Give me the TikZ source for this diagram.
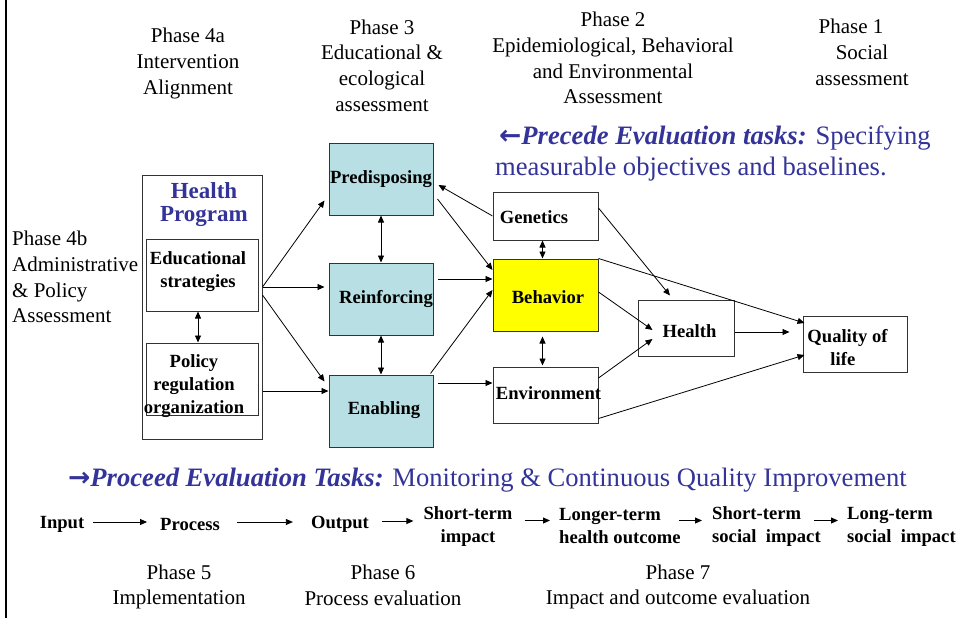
\documentclass[tikz,border=0pt]{standalone}
\usepackage{fontspec}
\setmainfont{Liberation Serif}
\newfontfamily\symfont{DejaVu Sans}
\usetikzlibrary{arrows.meta,calc}
\definecolor{navyblue}{RGB}{51,51,153}
\definecolor{boxteal}{RGB}{184,224,228}
\definecolor{boxyellow}{RGB}{255,255,0}
\newcommand{\phasefont}{\fontsize{21}{25.7}\selectfont}
\newcommand{\boxfont}{\fontsize{18.6}{23}\selectfont\bfseries}
\newcommand{\hpfont}{\fontsize{23}{23}\selectfont\bfseries}
\newcommand{\bigtxt}{\fontsize{26.6}{31}\selectfont}
% box text: #1 x-shift (right), #2 raise (up), #3 column spec, #4 rows
\newcommand{\btxt}[4]{\makebox[0pt]{\hspace*{#1}\hspace*{#1}\raisebox{#2}[\height][\depth]{\begin{tabular}{@{}#3@{}}#4\end{tabular}}}}
\tikzset{
  nbox/.style={draw=black!80, line width=1pt, inner sep=0pt, font=\boxfont, align=center},
  tealbox/.style={nbox, fill=boxteal},
  phase/.style={font=\phasefont, align=center, inner sep=0pt},
  steptxt/.style={font=\boxfont, inner sep=0pt},
  arr/.style={line width=0.8pt, -{Triangle[length=7pt,width=6pt]}},
  darr/.style={line width=0.8pt, {Triangle[length=7pt,width=6pt]}-{Triangle[length=7pt,width=6pt]}}
}
\begin{document}
\begin{tikzpicture}[x=1pt,y=-1pt]
\useasboundingbox (0,0) rectangle (959,618);
\draw[line width=2pt] (6,0) -- (6,618);

% phase headings
\node[phase] (p4a) at (188,63.5) {Phase 4a\\Intervention\\Alignment};
\node[phase] (p3) at (382,65.5) {Phase 3\\Educational \&\\ecological\\assessment};
\node[phase] (p2) at (613,58) {Phase 2\\Epidemiological, Behavioral\\and Environmental\\Assessment};
\node[phase] (p1) at (862,52.5) {Phase 1\hspace*{22pt}\\Social\hspace*{12pt}\\assessment};
\node[phase, align=left, anchor=west] (p4b) at (12,277) {Phase 4b\\Administrative\\\& Policy\\Assessment};

% precede text
\node[anchor=west, align=left, inner sep=0pt, font=\bigtxt, text=navyblue] (prec) at (495,153.5)
  {\hspace*{4pt}{\symfont\bfseries ←}\textbf{\textit{Precede Evaluation tasks:}} Specifying\\measurable objectives and baselines.};

% health program
\node[nbox, minimum width=120pt, minimum height=264pt] (hp) at (202,307) {};
\node[font=\hpfont, text=navyblue, align=center, inner sep=0pt] (hpt) at (204,204.5) {Health\\Program};
\node[nbox, minimum width=112pt, minimum height=72pt] (edu) at (202,275) {\btxt{-4pt}{3.5pt}{c}{Educational\\strategies}};
\node[nbox, minimum width=112pt, minimum height=72pt] (pol) at (202,379) {\btxt{-8pt}{-7pt}{c}{Policy\\regulation\\organization}};

% phase 3 boxes
\node[tealbox, minimum width=104pt, minimum height=72pt] (pre) at (381,179) {\btxt{0pt}{0pt}{c}{Predisposing}};
\node[tealbox, minimum width=104pt, minimum height=72pt] (rein) at (381,299) {\btxt{5pt}{0pt}{c}{Reinforcing}};
\node[tealbox, minimum width=104pt, minimum height=72pt] (enab) at (381,411) {\btxt{3pt}{1pt}{c}{Enabling}};

% phase 2 boxes
\node[nbox, minimum width=105pt, minimum height=48pt] (gen) at (545.5,216) {\btxt{-11.5pt}{-3pt}{c}{Genetics}};
\node[nbox, fill=boxyellow, minimum width=105pt, minimum height=72pt] (beh) at (545.5,295) {\btxt{2.5pt}{-4pt}{c}{Behavior}};
\node[nbox, minimum width=105pt, minimum height=56pt] (env) at (545.5,395) {\btxt{3pt}{0pt}{c}{Environment}};
\node[nbox, minimum width=96pt, minimum height=56pt] (hea) at (686,328) {\btxt{3.5pt}{-5pt}{c}{Health}};
\node[nbox, minimum width=104pt, minimum height=56pt] (qol) at (855,344) {\btxt{-7.5pt}{-5.5pt}{l}{Quality of\\\hspace*{23pt}life}};

% arrows phase 4 -> phase 3
\draw[arr] ($(hp.east)+(0,-20)$) -- ($(pre.south west)+(-4,-15)$);
\draw[arr] ($(hp.east)+(0,-20)$) -- ($(rein.west)+(-4,-12)$);
\draw[arr] ($(hp.east)+(0,-12)$) -- ($(enab.north west)+(-4,7)$);
\draw[arr] ($(hp.east)+(0,84)$) -- ($(enab.west)+(0,-20)$);
\draw[darr] ($(edu.south)+(-4,0)$) -- ($(pol.north)+(-4,0)$);
\draw[darr] (pre.south) -- (rein.north);
\draw[darr] (rein.south) -- (enab.north);

% phase 3 <-> phase 2
\draw[arr] (gen.west) -- ($(pre.east)+(5,6)$);
\draw[arr] ($(pre.east)+(4,20)$) -- ($(beh.west)+(0,-25)$);
\draw[arr] ($(rein.east)+(4,-20)$) -- ($(beh.west)+(0,-16)$);
\draw[arr] ($(enab.north east)+(-3,-1)$) -- ($(beh.west)+(0,-5)$);
\draw[arr] ($(enab.east)+(4,-28)$) -- ($(env.west)+(0,-12)$);
\draw[darr] ($(gen.south)+(-3,0)$) -- ($(beh.north)+(-3,0)$);
\draw[darr] ($(beh.south)+(-3,5)$) -- ($(env.north)+(-3,-1)$);

% phase 2 -> phase 1
\draw[arr] ($(gen.east)+(0,-8)$) -- ($(hea.north)+(-16,-4)$);
\draw[arr] (beh.north east) -- ($(qol.west)+(2,-21)$);
\draw[arr] ($(beh.east)+(0,-3)$) -- ($(hea.west)+(15,2)$);
\draw[arr] ($(env.east)+(0,-17)$) -- ($(hea.west)+(15,11)$);
\draw[arr] ($(hea.east)+(0,4)$) -- ($(qol.west)+(-13,-12)$);
\draw[arr] ($(env.south east)+(0,-5)$) -- ($(qol.west)+(2,11)$);

% proceed text
\node[anchor=west, inner sep=0pt, font=\bigtxt, text=navyblue] (proc8) at (68,480.5)
  {{\symfont\bfseries →}\textbf{\textit{Proceed Evaluation Tasks:}} Monitoring \& Continuous Quality Improvement};

% bottom chain
\node[steptxt] (inp) at (62,524) {Input};
\node[steptxt] (proc) at (190,524) {Process};
\node[steptxt] (outp) at (340,524) {Output};
\node[steptxt, align=center] (sti) at (468,526.5) {Short-term\\impact};
\node[steptxt, align=left, anchor=west] (lht) at (559,526.5) {Longer-term\\health outcome};
\node[steptxt, align=left, anchor=west] (sts) at (712,526.5) {Short-term\\social~~impact};
\node[steptxt, align=left, anchor=west] (lts) at (847,526.5) {Long-term\\social~~impact};

\draw[arr] ($(inp.east)+(9,-2)$) -- ($(proc.west)+(-13,-2)$);
\draw[arr] ($(proc.east)+(17,-2)$) -- ($(outp.west)+(-18,-2)$);
\draw[arr] ($(outp.east)+(13,-3)$) -- ($(sti.west)+(-10,-5.5)$);
\draw[arr] ($(sti.east)+(12,-6)$) -- ($(lht.west)+(-9,-6)$);
\draw[arr] ($(lht.east)+(-2,-6)$) -- ($(sts.west)+(-10,-6)$);
\draw[arr] ($(sts.east)+(-7,-6)$) -- ($(lts.west)+(-9,-6)$);

% phases 5-7
\node[phase] (p5) at (179,587) {Phase 5\\Implementation};
\node[phase] (p6) at (383,585.5) {Phase 6\\Process evaluation};
\node[phase] (p7) at (678,587) {Phase 7\\Impact and outcome evaluation};
\end{tikzpicture}
\end{document}
